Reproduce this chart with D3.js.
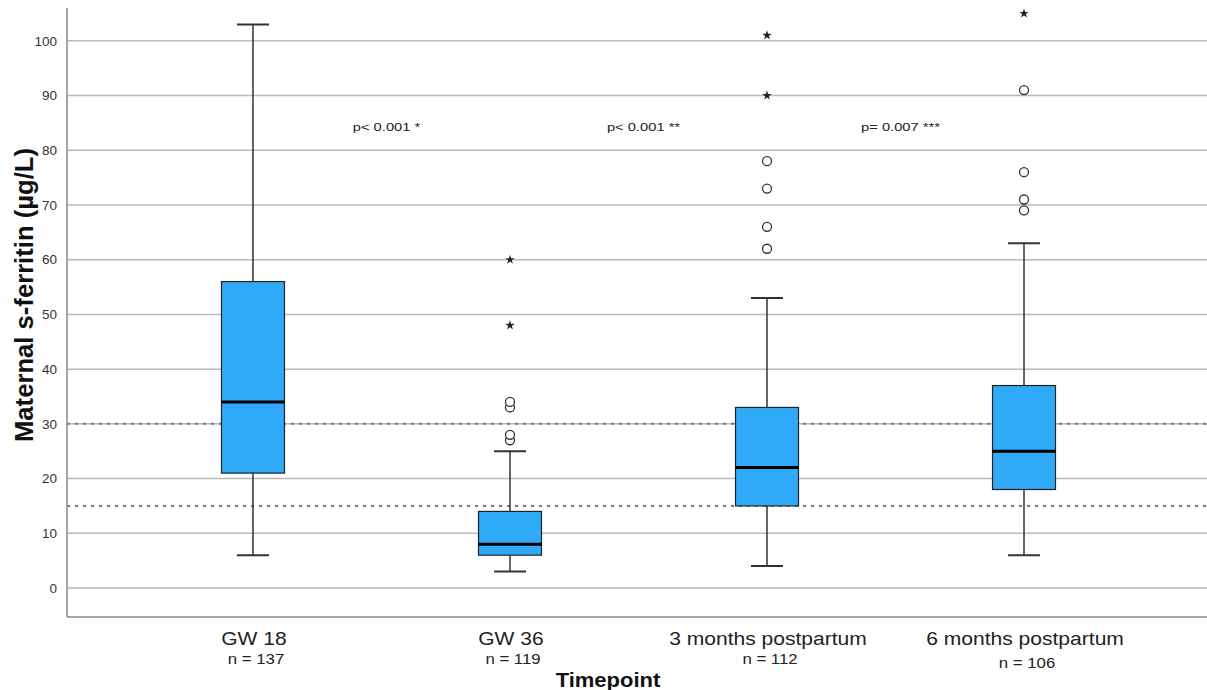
<!DOCTYPE html>
<html>
<head>
<meta charset="utf-8">
<script src="https://cdn.jsdelivr.net/npm/d3@7"></script>
<style>
  body { margin: 0; background: #fff; }
  text { font-family: "Liberation Sans", Arial, sans-serif; }
</style>
</head>
<body>
<svg id="chart" width="1207" height="690"></svg>
<script>
// data
const categories  = ["GW 18", "GW 36", "3 months postpartum", "6 months postpartum"];
const nLabels     = ["n = 137", "n = 119", "n = 112", "n = 106"];
const whiskerLow  = [6, 3, 4, 6];
const q1          = [21, 6, 15, 18];
const medians     = [34, 8, 22, 25];
const q3          = [56, 14, 33, 37];
const whiskerHigh = [103, 25, 53, 63];
const circleOutliers = [[], [27, 28, 33, 34], [62, 66, 73, 78], [69, 71, 76, 91]];
const starOutliers   = [[], [48, 60], [90, 101], [105]];
const yTicks = [0, 10, 20, 30, 40, 50, 60, 70, 80, 90, 100];
const refLines = [30, 15];
const pLabels = ["p< 0.001 *", "p< 0.001 **", "p= 0.007 ***"];
const pValuePos = 83.5; // y value where p labels sit

const svg = d3.select("#chart");
const plotLeft = 67, plotRight = 1207, plotTop = 8, plotBottom = 617;

const x = d3.scalePoint()
    .domain(categories)
    .range([70, plotRight])
    .padding(0.712);

const y = d3.scaleLinear()
    .domain([-5.3, 106])
    .range([plotBottom, plotTop]);

const boxW = 63, capW = 32;

// text in the original is a little stretched sideways
function wideText(sel, sx) {
    return sel.attr("transform", d => "scale(" + sx + ",1)");
}

// gridlines
svg.append("g")
    .selectAll("line")
    .data(yTicks)
    .join("line")
    .attr("x1", plotLeft).attr("x2", plotRight)
    .attr("y1", d => y(d)).attr("y2", d => y(d))
    .attr("stroke", "#bababa")
    .attr("stroke-width", 1.5);

// dashed reference lines
svg.append("g")
    .selectAll("line")
    .data(refLines)
    .join("line")
    .attr("x1", plotLeft).attr("x2", plotRight)
    .attr("y1", d => y(d)).attr("y2", d => y(d))
    .attr("stroke", "#777")
    .attr("stroke-width", 2)
    .attr("stroke-dasharray", "3,5");

// axes lines
svg.append("line")
    .attr("x1", plotLeft).attr("x2", plotLeft)
    .attr("y1", plotTop).attr("y2", plotBottom)
    .attr("stroke", "#888").attr("stroke-width", 1.5);
svg.append("line")
    .attr("x1", plotLeft).attr("x2", plotRight)
    .attr("y1", plotBottom).attr("y2", plotBottom)
    .attr("stroke", "#888").attr("stroke-width", 1.5);

// y tick labels
svg.append("g")
    .selectAll("text")
    .data(yTicks)
    .join("text")
    .attr("x", plotLeft - 10)
    .attr("y", d => y(d))
    .attr("dy", "0.35em")
    .attr("text-anchor", "end")
    .attr("font-size", 13.5)
    .attr("fill", "#333")
    .text(d => d);

// y axis title
svg.append("text")
    .attr("transform", "translate(33,295) rotate(-90)")
    .attr("text-anchor", "middle")
    .attr("font-size", 25)
    .attr("font-weight", "bold")
    .attr("fill", "#111")
    .attr("textLength", 294)
    .attr("lengthAdjust", "spacingAndGlyphs")
    .text("Maternal s-ferritin (µg/L)");

// boxes
const groups = svg.append("g")
    .selectAll("g")
    .data(categories)
    .join("g");

groups.append("line")
    .attr("x1", d => x(d)).attr("x2", d => x(d))
    .attr("y1", (d, i) => y(whiskerLow[i])).attr("y2", (d, i) => y(q1[i]))
    .attr("stroke", "#333").attr("stroke-width", 1.5);
groups.append("line")
    .attr("x1", d => x(d)).attr("x2", d => x(d))
    .attr("y1", (d, i) => y(q3[i])).attr("y2", (d, i) => y(whiskerHigh[i]))
    .attr("stroke", "#333").attr("stroke-width", 1.5);
[whiskerLow, whiskerHigh].forEach(arr => {
    groups.append("line")
        .attr("x1", d => x(d) - capW / 2).attr("x2", d => x(d) + capW / 2)
        .attr("y1", (d, i) => y(arr[i])).attr("y2", (d, i) => y(arr[i]))
        .attr("stroke", "#333").attr("stroke-width", 2);
});
groups.append("rect")
    .attr("x", d => x(d) - boxW / 2)
    .attr("width", boxW)
    .attr("y", (d, i) => y(q3[i]))
    .attr("height", (d, i) => y(q1[i]) - y(q3[i]))
    .attr("fill", "#30aaf8")
    .attr("stroke", "#222")
    .attr("stroke-width", 1.2);
groups.append("line")
    .attr("x1", d => x(d) - boxW / 2).attr("x2", d => x(d) + boxW / 2)
    .attr("y1", (d, i) => y(medians[i])).attr("y2", (d, i) => y(medians[i]))
    .attr("stroke", "#000").attr("stroke-width", 3);

// outliers
groups.each(function (d, i) {
    const g = d3.select(this);
    g.selectAll("circle")
        .data(circleOutliers[i])
        .join("circle")
        .attr("cx", x(d))
        .attr("cy", v => y(v))
        .attr("r", 4.5)
        .attr("fill", "#fff")
        .attr("stroke", "#333")
        .attr("stroke-width", 1.3);
    g.selectAll("path.star")
        .data(starOutliers[i])
        .join("path")
        .attr("class", "star")
        .attr("transform", v => "translate(" + x(d) + "," + y(v) + ")")
        .attr("d", d3.symbol(d3.symbolStar, 28))
        .attr("fill", "#222");
});

// p-value labels between boxes
svg.append("g")
    .selectAll("g")
    .data(pLabels)
    .join("g")
    .attr("transform", (d, i) => "translate(" + ((x(categories[i]) + x(categories[i + 1])) / 2 + 5) + "," + y(pValuePos) + ")")
    .append("text")
    .call(wideText, 1.28)
    .attr("text-anchor", "middle")
    .attr("font-size", 11.5)
    .attr("fill", "#222")
    .text(d => d);

// x labels
svg.append("g")
    .selectAll("g")
    .data(categories)
    .join("g")
    .attr("transform", d => "translate(" + (x(d) + 1) + ",645)")
    .append("text")
    .call(wideText, 1.17)
    .attr("text-anchor", "middle")
    .attr("font-size", 18)
    .attr("fill", "#222")
    .text(d => d);
svg.append("g")
    .selectAll("g")
    .data(nLabels)
    .join("g")
    .attr("transform", (d, i) => "translate(" + (x(categories[i]) + 3) + "," + (i === 3 ? 668 : 664) + ")")
    .append("text")
    .call(wideText, 1.2)
    .attr("text-anchor", "middle")
    .attr("font-size", 14)
    .attr("fill", "#222")
    .text(d => d);

svg.append("g")
    .attr("transform", "translate(608,687)")
    .append("text")
    .call(wideText, 1.1)
    .attr("text-anchor", "middle")
    .attr("font-size", 20)
    .attr("font-weight", "bold")
    .attr("fill", "#111")
    .text("Timepoint");
</script>
</body>
</html>
